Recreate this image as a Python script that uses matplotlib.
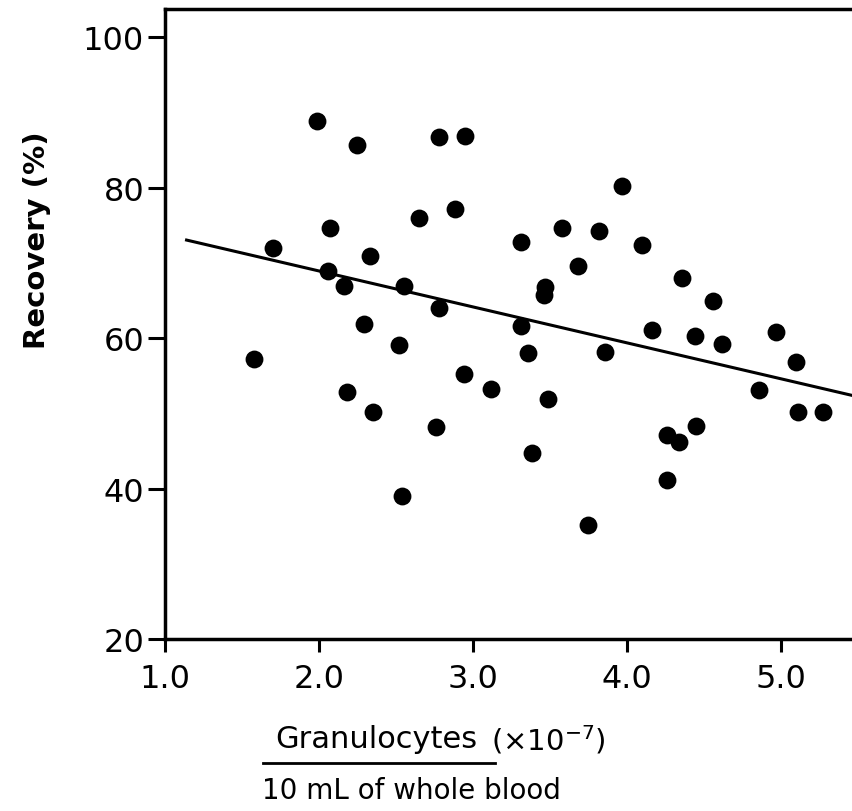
import numpy as np
import matplotlib
matplotlib.use("Agg")
import matplotlib.pyplot as plt
from matplotlib.lines import Line2D

# Valores
granulocytes = [1.58, 1.70, 1.99, 2.07, 2.06, 2.16, 2.25, 2.33, 2.18, 2.29,
                2.35, 2.55, 2.52, 2.54, 2.65, 2.78, 2.95, 2.88, 2.78, 2.76,
                2.94, 3.12, 3.31, 3.58, 3.82, 3.97, 4.10, 3.68, 3.47, 3.46,
                4.36, 4.56, 3.31, 3.36, 4.16, 4.44, 4.62, 4.97, 5.10, 3.49,
                3.86, 3.38, 4.26, 4.34, 4.45, 4.86, 5.11, 5.27, 4.26, 3.75]
recovery = [57.2, 72.0, 88.9, 74.7, 68.9, 66.9, 85.7, 70.9, 52.8, 61.9,
            50.2, 66.9, 59.1, 39.0, 76.0, 86.8, 86.9, 77.2, 64.0, 48.2,
            55.2, 53.2, 72.8, 74.7, 74.3, 80.2, 72.4, 69.6, 66.8, 65.8,
            68.0, 64.9, 61.6, 58.0, 61.1, 60.3, 59.2, 60.8, 56.8, 51.9,
            58.2, 44.7, 47.1, 46.2, 48.3, 53.1, 50.2, 50.2, 41.1, 35.2]

# Recta de regresión
fit_intercept = 78.5
fit_slope = -4.78
fit_x = np.array([1.14, 5.6])

x_ticks = [1.0, 2.0, 3.0, 4.0, 5.0]
y_ticks = [20, 40, 60, 80, 100]

fig = plt.figure(figsize=(8.53, 8.12), dpi=100)
ax = fig.add_axes([165 / 853, 172 / 812, 688 / 853, 630 / 812])

ax.scatter(granulocytes, recovery, s=165, color='black', zorder=3, linewidths=0)
ax.plot(fit_x, fit_intercept + fit_slope * fit_x, color='black', lw=2.2)

ax.set_xlim(1.0, 1.0 + 688 / 154)
ax.set_ylim(20, 20 + 630 / 7.52)
ax.set_xticks(x_ticks)
ax.set_xticklabels([f"{v:.1f}" for v in x_ticks])
ax.set_yticks(y_ticks)

for side in ['left', 'bottom', 'top']:
    ax.spines[side].set_linewidth(2.5)
ax.spines['right'].set_visible(False)

ax.tick_params(axis='both', direction='out', width=2.2, labelsize=23)
ax.tick_params(axis='y', length=12, pad=3)
ax.tick_params(axis='x', length=9, pad=8)

ax.set_ylabel("Recovery (%)", fontsize=21, fontweight='bold')
ax.yaxis.set_label_coords(-0.165, 0.635)

# Etiqueta del eje X en dos renglones con subrayado
fig.text(376 / 853, 1 - 740 / 812, "Granulocytes", fontsize=22,
         ha='center', va='center')
fig.text(548 / 853, 1 - 740 / 812, r"(×10$^{-7}$)", fontsize=21,
         ha='center', va='center')
fig.lines.append(Line2D([263 / 853, 495 / 853], [1 - 764 / 812, 1 - 764 / 812],
                        transform=fig.transFigure, color='black', lw=2))
fig.text(411 / 853, 1 - 791 / 812, "10 mL of whole blood", fontsize=20,
         ha='center', va='center')

fig.savefig("out.png", dpi=100)
